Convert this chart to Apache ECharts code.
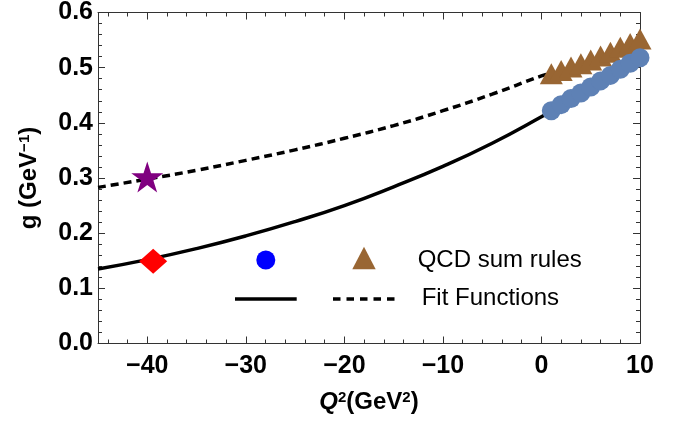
<!DOCTYPE html>
<html>
<head>
<meta charset="utf-8">
<script src="https://cdn.jsdelivr.net/npm/echarts@6/dist/echarts.min.js"></script>
<style>
html, body { margin: 0; padding: 0; background: #fff; }
#chart { width: 690px; height: 426px; }
</style>
</head>
<body>
<div id="chart"></div>
<script>
// fit functions
const fitQ2 = [-45, -40, -35, -30, -25, -20, -15, -10, -5, 0, 1];
const fitSolid = [0.135, 0.152, 0.172, 0.195, 0.221, 0.250, 0.284, 0.321, 0.363, 0.411, 0.422];
const fitDashed = [0.283, 0.298, 0.314, 0.332, 0.351, 0.372, 0.395, 0.422, 0.452, 0.485, 0.490];

// QCD sum rules points
const qcdQ2 = [1, 2, 3, 4, 5, 6, 7, 8, 9, 10];
const qcdCircles = [0.422, 0.433, 0.444, 0.454, 0.465, 0.476, 0.486, 0.497, 0.508, 0.518];
const qcdTriangles = [0.489, 0.495, 0.501, 0.507, 0.514, 0.521, 0.528, 0.537, 0.544, 0.552];

// single points
const starPoint = [-40, 0.302];
const diamondPoint = [-39.4, 0.149];

// ticks
const xMajor = [-40, -30, -20, -10, 0, 10];
const xMinor = [-44, -42, -38, -36, -34, -32, -28, -26, -24, -22, -18, -16, -14, -12, -8, -6, -4, -2, 2, 4, 6, 8];

const frameColor = "#333";
const font = "Liberation Sans";
const starPath = "path://M100,0 L122.45,69.1 L195.1,69.1 L136.3,111.8 L158.8,180.9 L100,138.2 L41.2,180.9 L63.7,111.8 L4.9,69.1 L77.55,69.1 Z";

let myChart = echarts.init(document.getElementById("chart"));

function xAxisPart(pos, ticks, len, withLine, withLabel) {
  return {
    type: "value",
    position: pos,
    min: -45,
    max: 10,
    axisLine: { show: withLine, onZero: false, lineStyle: { color: frameColor, width: 1 } },
    axisTick: { show: true, inside: true, length: len, customValues: ticks, lineStyle: { color: frameColor } },
    axisLabel: {
      show: withLabel,
      customValues: ticks,
      margin: 10,
      color: "#000",
      fontFamily: font,
      fontWeight: "bold",
      fontSize: 25,
      formatter: (v) => String(v).replace("-", "\u2212")
    },
    splitLine: { show: false }
  };
}

function yAxisPart(pos, withLabel) {
  return {
    type: "value",
    position: pos,
    min: 0,
    max: 0.6,
    interval: 0.1,
    axisLine: { show: true, onZero: false, lineStyle: { color: frameColor, width: 1 } },
    axisTick: { show: true, inside: true, length: 7, lineStyle: { color: frameColor } },
    minorTick: { show: true, splitNumber: 5, length: 4, lineStyle: { color: frameColor } },
    axisLabel: {
      show: withLabel,
      margin: 5,
      color: "#000",
      fontFamily: font,
      fontWeight: "bold",
      fontSize: 25,
      formatter: (v) => v.toFixed(1)
    },
    splitLine: { show: false },
    minorSplitLine: { show: false }
  };
}

let xBottom = xAxisPart("bottom", xMajor, 7, true, true);
xBottom.name = "{qi|Q}{sup|2}{b|(GeV}{sup|2}{b|)}";
xBottom.nameLocation = "middle";
xBottom.nameGap = 47;
xBottom.nameTextStyle = {
  rich: {
    qi: { fontFamily: font, fontWeight: "bold", fontStyle: "italic", fontSize: 24, color: "#000" },
    b: { fontFamily: font, fontWeight: "bold", fontSize: 24, color: "#000" },
    sup: { fontFamily: font, fontWeight: "bold", fontSize: 15, color: "#000", verticalAlign: "top", lineHeight: 15, padding: [0, 0, 12, 0] }
  }
};

let yLeft = yAxisPart("left", true);
yLeft.name = "{b|g (GeV}{sup|\u22121}{b|)}";
yLeft.nameLocation = "middle";
yLeft.nameGap = 57;
yLeft.nameTextStyle = {
  rich: {
    b: { fontFamily: font, fontWeight: "bold", fontSize: 24, color: "#000" },
    sup: { fontFamily: font, fontWeight: "bold", fontSize: 15, color: "#000", verticalAlign: "top", lineHeight: 15, padding: [0, 0, 12, 0] }
  }
};

myChart.setOption({
  animation: false,
  grid: { left: 98, right: 50, top: 10, bottom: 82.5, containLabel: false },
  xAxis: [
    xBottom,
    xAxisPart("bottom", xMinor, 4, false, false),
    xAxisPart("top", xMajor, 7, true, false),
    xAxisPart("top", xMinor, 4, false, false)
  ],
  yAxis: [yLeft, yAxisPart("right", false)],
  series: [
    {
      type: "line",
      data: fitQ2.map((x, i) => [x, fitSolid[i]]),
      smooth: true,
      showSymbol: false,
      lineStyle: { color: "#000", width: 3.5 },
      z: 2
    },
    {
      type: "line",
      data: fitQ2.map((x, i) => [x, fitDashed[i]]),
      smooth: true,
      showSymbol: false,
      lineStyle: { color: "#000", width: 3.5, type: [8, 5] },
      z: 2
    },
    {
      type: "scatter",
      data: qcdQ2.map((x, i) => [x, qcdTriangles[i]]),
      symbol: "triangle",
      symbolSize: [23, 21],
      itemStyle: { color: "#996633", opacity: 1 },
      z: 3
    },
    {
      type: "scatter",
      data: qcdQ2.map((x, i) => [x, qcdCircles[i]]),
      symbol: "circle",
      symbolSize: 19,
      itemStyle: { color: "#5E81B5", opacity: 1 },
      z: 4
    },
    {
      type: "scatter",
      data: [starPoint],
      symbol: starPath,
      symbolSize: [32, 31],
      itemStyle: { color: "#800080", opacity: 1 },
      z: 5
    },
    {
      type: "scatter",
      data: [diamondPoint],
      symbol: "diamond",
      symbolSize: [28, 25],
      itemStyle: { color: "#ff0000", opacity: 1 },
      z: 5
    }
  ],
  graphic: [
    { type: "circle", shape: { cx: 265.8, cy: 260, r: 9.5 }, style: { fill: "#0000ff" } },
    { type: "polygon", shape: { points: [[352.3, 269.3], [364, 246.7], [375.7, 269.3]] }, style: { fill: "#996633" } },
    { type: "text", x: 417.7, y: 260, style: { text: "QCD sum rules", fontFamily: font, fontSize: 24, fill: "#000", verticalAlign: "middle" } },
    { type: "line", shape: { x1: 235, y1: 299, x2: 296.7, y2: 299 }, style: { stroke: "#000", lineWidth: 3.5 } },
    { type: "line", shape: { x1: 333, y1: 299, x2: 395, y2: 299 }, style: { stroke: "#000", lineWidth: 3.5, lineDash: [7.5, 6] } },
    { type: "text", x: 421.7, y: 298, style: { text: "Fit Functions", fontFamily: font, fontSize: 24, fill: "#000", verticalAlign: "middle" } }
  ]
});
</script>
</body>
</html>
